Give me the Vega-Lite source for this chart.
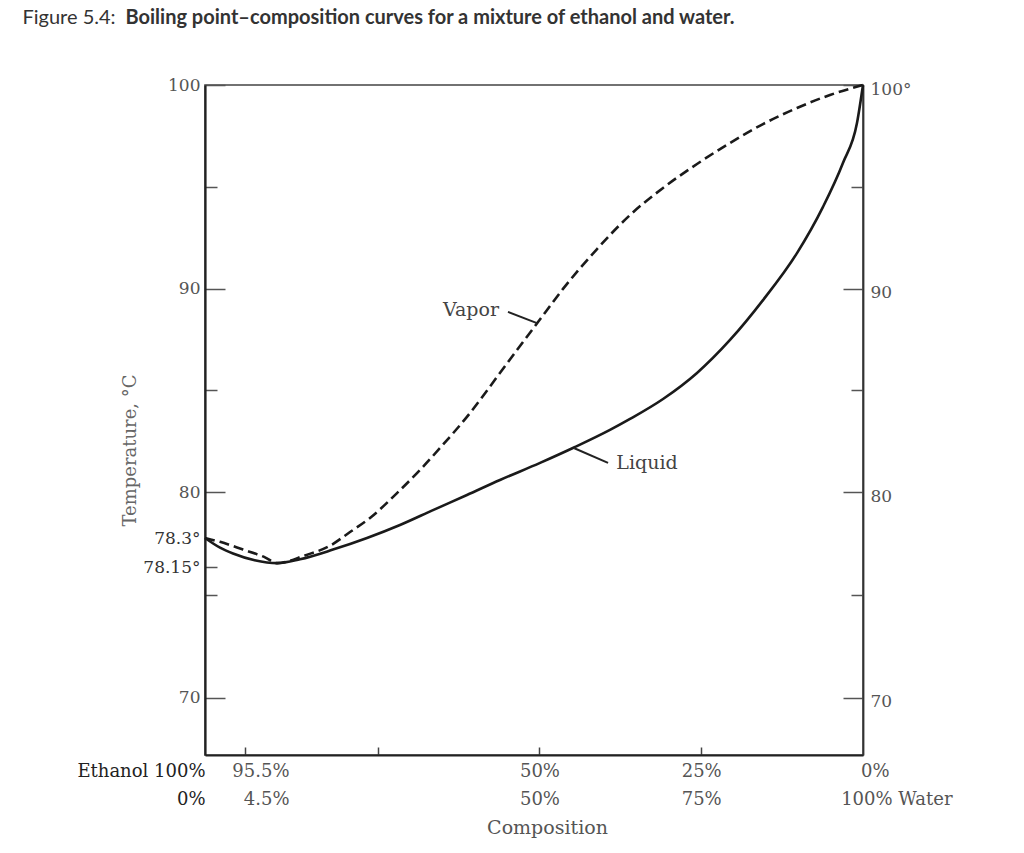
{
  "$schema": "https://vega.github.io/schema/vega-lite/v6.json",
  "width": 658,
  "height": 670,
  "autosize": {"type": "none"},
  "padding": {"left": 205, "top": 85, "right": 161, "bottom": 98},
  "background": "white",
  "config": {
    "view": {"stroke": "#444", "strokeWidth": 1.6},
    "axis": {"labelFont": "DejaVu Serif", "titleFont": "DejaVu Serif", "grid": false, "labelOverlap": false, "labelFlush": false, "labelBound": false}
  },
  "datasets": {
    "curves": [
      {"phase": "Liquid", "water": 0, "temp": 78.3},
      {"phase": "Liquid", "water": 1.69, "temp": 78.25},
      {"phase": "Liquid", "water": 3.15, "temp": 78.22},
      {"phase": "Liquid", "water": 6.0, "temp": 78.185},
      {"phase": "Liquid", "water": 9.5, "temp": 78.17},
      {"phase": "Liquid", "water": 13.0, "temp": 78.19},
      {"phase": "Liquid", "water": 18.1, "temp": 78.24},
      {"phase": "Liquid", "water": 23.35, "temp": 78.3},
      {"phase": "Liquid", "water": 28.45, "temp": 78.78},
      {"phase": "Liquid", "water": 33.55, "temp": 79.33},
      {"phase": "Liquid", "water": 38.8, "temp": 79.89},
      {"phase": "Liquid", "water": 43.9, "temp": 80.59},
      {"phase": "Liquid", "water": 50.1, "temp": 81.43},
      {"phase": "Liquid", "water": 55.5, "temp": 82.21},
      {"phase": "Liquid", "water": 60.9, "temp": 83.05},
      {"phase": "Liquid", "water": 64.0, "temp": 83.59},
      {"phase": "Liquid", "water": 69.1, "temp": 84.57},
      {"phase": "Liquid", "water": 74.35, "temp": 85.85},
      {"phase": "Liquid", "water": 79.45, "temp": 87.47},
      {"phase": "Liquid", "water": 84.55, "temp": 89.43},
      {"phase": "Liquid", "water": 89.8, "temp": 91.74},
      {"phase": "Liquid", "water": 93.8, "temp": 94.0},
      {"phase": "Liquid", "water": 96.9, "temp": 96.17},
      {"phase": "Liquid", "water": 99.07, "temp": 98.13},
      {"phase": "Liquid", "water": 100, "temp": 100},
      {"phase": "Vapor", "water": 0, "temp": 78.3},
      {"phase": "Vapor", "water": 1.69, "temp": 78.28},
      {"phase": "Vapor", "water": 4.28, "temp": 78.24},
      {"phase": "Vapor", "water": 7.59, "temp": 78.2},
      {"phase": "Vapor", "water": 9.5, "temp": 78.17},
      {"phase": "Vapor", "water": 13.77, "temp": 78.21},
      {"phase": "Vapor", "water": 17.64, "temp": 78.26},
      {"phase": "Vapor", "water": 20.73, "temp": 78.52},
      {"phase": "Vapor", "water": 23.82, "temp": 79.04},
      {"phase": "Vapor", "water": 27.99, "temp": 79.96},
      {"phase": "Vapor", "water": 31.54, "temp": 81.08},
      {"phase": "Vapor", "water": 34.63, "temp": 82.16},
      {"phase": "Vapor", "water": 39.27, "temp": 83.88},
      {"phase": "Vapor", "water": 43.44, "temp": 85.65},
      {"phase": "Vapor", "water": 46.53, "temp": 86.98},
      {"phase": "Vapor", "water": 49.78, "temp": 88.35},
      {"phase": "Vapor", "water": 53.64, "temp": 89.98},
      {"phase": "Vapor", "water": 58.9, "temp": 91.94},
      {"phase": "Vapor", "water": 64.0, "temp": 93.61},
      {"phase": "Vapor", "water": 69.1, "temp": 94.94},
      {"phase": "Vapor", "water": 74.35, "temp": 96.12},
      {"phase": "Vapor", "water": 79.45, "temp": 97.15},
      {"phase": "Vapor", "water": 84.55, "temp": 98.08},
      {"phase": "Vapor", "water": 89.8, "temp": 98.87},
      {"phase": "Vapor", "water": 94.9, "temp": 99.51},
      {"phase": "Vapor", "water": 100, "temp": 100}
    ],
    "pointers": [
      {"label": "Vapor", "water": 45.14, "temp": 88.85, "water2": 49.62, "temp2": 88.3},
      {"label": "Liquid", "water": 55.4, "temp": 82.15, "water2": 60.6, "temp2": 81.43}
    ],
    "labels": [
      {"label": "Vapor", "water": 39.42, "temp": 88.94},
      {"label": "Liquid", "water": 66.62, "temp": 81.43}
    ]
  },
  "layer": [
    {
      "data": {"name": "curves"},
      "transform": [{"filter": "datum.phase == 'Liquid'"}],
      "mark": {"type": "line", "color": "#1a1a1a", "strokeWidth": 2.6, "interpolate": "monotone"},
      "encoding": {
        "x": {
          "field": "water", "type": "quantitative",
          "scale": {"domain": [0, 4.5, 100], "range": [0, 40, 658], "nice": false, "zero": false},
          "axis": {
            "orient": "bottom",
            "values": [0, 4.5, 25, 50, 75, 100],
            "domainColor": "#222", "domainWidth": 2.2,
            "tickColor": "#444", "tickWidth": 1.5,
            "tickSize": {"condition": {"test": "datum.value == 0 || datum.value == 100", "value": 0}, "value": -8},
            "labelPadding": {"condition": {"test": "datum.value == 0 || datum.value == 100", "value": 7}, "value": 15},
            "labelAlign": {"condition": {"test": "datum.value == 50 || datum.value == 75", "value": "center"}, "value": "right"},
            "labelOffset": {"condition": [{"test": "datum.value == 4.5", "value": 44}, {"test": "datum.value == 100", "value": 89}], "value": 0},
            "labelColor": {"condition": {"test": "datum.value == 0", "value": "#222"}, "value": "#555"},
            "labelBaseline": "top",
            "labelFontSize": 18,
            "labelLineHeight": 28,
            "labelExpr": "datum.value == 0 ? ['Ethanol 100%', '0%'] : datum.value == 4.5 ? ['95.5%', '4.5%'] : datum.value == 50 ? ['50%', '50%'] : datum.value == 75 ? ['25%', '75%'] : datum.value == 100 ? ['0%\u00a0\u00a0\u00a0\u00a0\u00a0\u00a0\u00a0\u00a0\u00a0\u00a0\u00a0\u200b', '100% Water'] : ''",
            "title": "Composition",
            "titleFontSize": 19, "titleFontWeight": "normal", "titleColor": "#555",
            "titleX": 342, "titleY": 72, "titleBaseline": "middle", "titleAlign": "center"
          }
        },
        "y": {
          "field": "temp", "type": "quantitative",
          "scale": {"domain": [67.23, 75, 78.15, 78.3, 80, 100], "range": [670, 510, 482, 453, 407, 0], "nice": false, "zero": false},
          "axis": {
            "orient": "left",
            "values": [100, 95, 90, 85, 80, 78.3, 78.15, 75, 70],
            "domainColor": "#222", "domainWidth": 2.2,
            "tickColor": "#555", "tickWidth": 1.5,
            "tickSize": {"condition": [{"test": "datum.value == 78.3", "value": 0}, {"test": "datum.value % 10 == 0", "value": -20}], "value": -12},
            "labelPadding": {"condition": [{"test": "datum.value == 78.3", "value": 5}, {"test": "datum.value % 10 == 0", "value": 25}], "value": 17},
            "labelColor": {"condition": {"test": "datum.value == 78.3 || datum.value == 78.15", "value": "#333"}, "value": "#555"},
            "labelFontSize": 17,
            "labelBaseline": "middle",
            "labelAlign": "right",
            "labelExpr": "datum.value == 78.3 ? '78.3°' : datum.value == 78.15 ? '78.15°' : datum.value % 10 == 0 ? '' + datum.value : ''",
            "title": "Temperature, °C",
            "titleFontSize": 18, "titleFontWeight": "normal", "titleColor": "#666",
            "titleX": -75, "titleY": 365, "titleAngle": -90, "titleBaseline": "middle", "titleAlign": "center"
          }
        }
      }
    },
    {
      "data": {"name": "curves"},
      "transform": [{"filter": "datum.phase == 'Vapor'"}],
      "mark": {"type": "line", "color": "#1a1a1a", "strokeWidth": 2.6, "strokeDash": [10, 5], "interpolate": "monotone"},
      "encoding": {
        "x": {
          "field": "water", "type": "quantitative",
          "scale": {"domain": [0, 4.5, 100], "range": [0, 40, 658], "nice": false, "zero": false},
          "axis": {
            "orient": "top", "labels": false, "ticks": false, "domain": false,
            "title": "Figure 5.4:",
            "titleFont": "Lato", "titleFontSize": 20, "titleFontWeight": "normal", "titleColor": "#333",
            "titleX": -183, "titleY": -68, "titleAlign": "left", "titleBaseline": "middle", "titleAngle": 0
          }
        },
        "y": {
          "field": "temp", "type": "quantitative",
          "scale": {"domain": [67.23, 75, 78.15, 78.3, 80, 100], "range": [670, 510, 482, 453, 407, 0], "nice": false, "zero": false},
          "axis": null
        }
      }
    },
    {
      "data": {"name": "pointers"},
      "mark": {"type": "rule", "color": "#222", "strokeWidth": 2},
      "encoding": {
        "x": {"field": "water", "type": "quantitative", "scale": {"domain": [0, 4.5, 100], "range": [0, 40, 658], "nice": false, "zero": false}, "axis": null},
        "x2": {"field": "water2"},
        "y": {"field": "temp", "type": "quantitative", "scale": {"domain": [67.23, 75, 78.15, 78.3, 80, 100], "range": [670, 510, 482, 453, 407, 0], "nice": false, "zero": false}, "axis": null},
        "y2": {"field": "temp2"}
      }
    },
    {
      "data": {"name": "labels"},
      "mark": {"type": "text", "font": "DejaVu Serif", "fontSize": 19, "color": "#444", "align": "center", "baseline": "middle"},
      "encoding": {
        "x": {"field": "water", "type": "quantitative", "scale": {"domain": [0, 4.5, 100], "range": [0, 40, 658], "nice": false, "zero": false}, "axis": null},
        "y": {
          "field": "temp", "type": "quantitative",
          "scale": {"domain": [67.23, 75, 78.15, 78.3, 80, 100], "range": [670, 510, 482, 453, 407, 0], "nice": false, "zero": false},
          "axis": {
            "orient": "right",
            "values": [100, 95, 90, 85, 80, 75, 70],
            "domainColor": "#333", "domainWidth": 1.8,
            "tickColor": "#555", "tickWidth": 1.5,
            "tickSize": {"condition": {"test": "datum.value % 10 == 0", "value": -20}, "value": -12},
            "labelPadding": {"condition": {"test": "datum.value % 10 == 0", "value": 27}, "value": 19},
            "labelOffset": 4,
            "labelColor": "#555",
            "labelFontSize": 17,
            "labelBaseline": "middle",
            "labelAlign": "left",
            "labelExpr": "datum.value == 100 ? '100°' : datum.value % 10 == 0 ? '' + datum.value : ''",
            "title": "Boiling point–composition curves for a mixture of ethanol and water.",
            "titleFont": "Lato", "titleFontSize": 20, "titleFontWeight": "bold", "titleColor": "#333",
            "titleX": -738, "titleY": -68, "titleAlign": "left", "titleBaseline": "middle", "titleAngle": 0
          }
        },
        "text": {"field": "label"}
      }
    }
  ],
  "resolve": {"axis": {"x": "independent", "y": "independent"}}
}
